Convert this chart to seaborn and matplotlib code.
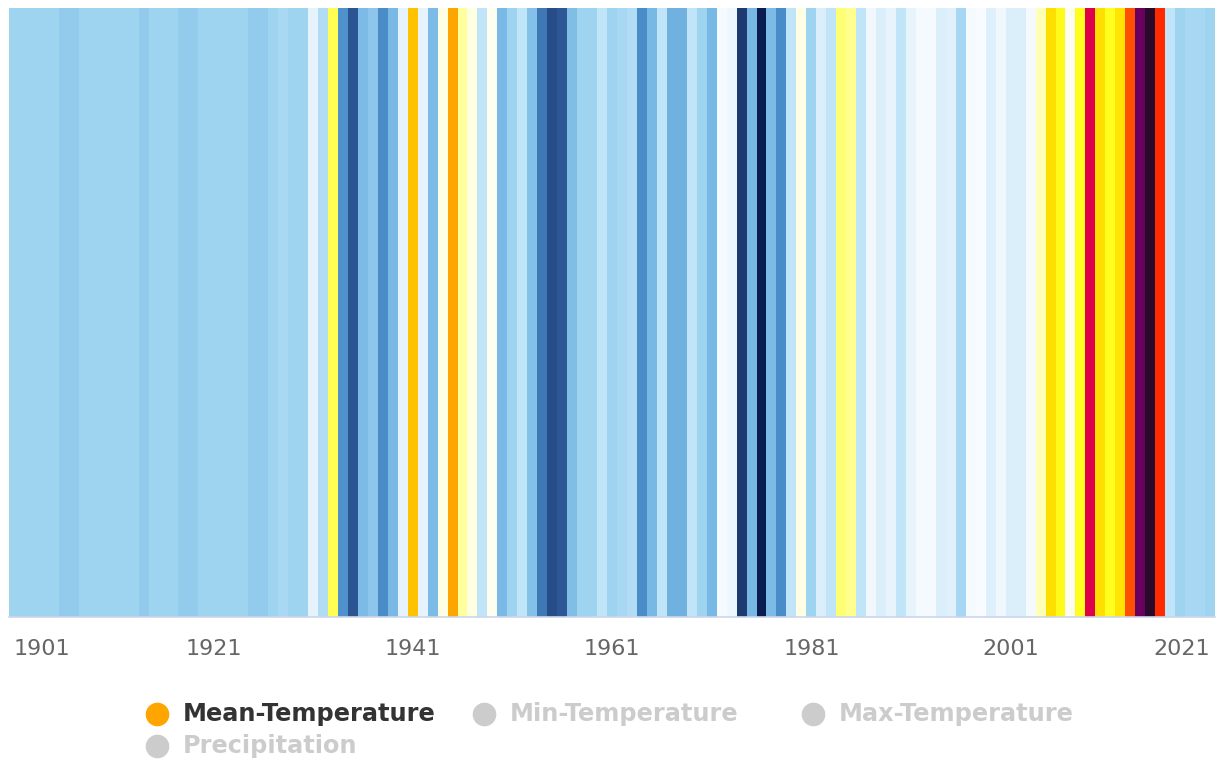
import numpy as np
import pandas as pd
import matplotlib.pyplot as plt
import seaborn as sns
from matplotlib.colors import LinearSegmentedColormap
from matplotlib.lines import Line2D

# yearly mean-temperature anomaly (read off the stripes, approximate)
years = list(range(1901, 2022))
anomaly = [
    -0.30, -0.30, -0.30, -0.30, -0.30, -0.35, -0.35, -0.30, -0.30, -0.30,  # 1901-1910
    -0.30, -0.30, -0.30, -0.35, -0.30, -0.30, -0.30, -0.35, -0.35, -0.30,  # 1911-1920
    -0.30, -0.30, -0.30, -0.30, -0.35, -0.35, -0.30, -0.27, -0.30, -0.30,  # 1921-1930
    -0.10, -0.25, 0.25, -0.58, -0.75, -0.43, -0.37, -0.60, -0.44, -0.10,   # 1931-1940
    0.50, -0.10, -0.43, 0.08, 0.60, 0.18, 0.10, -0.20, 0.05, -0.44,        # 1941-1950
    -0.30, -0.20, -0.40, -0.65, -0.78, -0.74, -0.42, -0.30, -0.30, -0.20,  # 1951-1960
    -0.30, -0.28, -0.25, -0.60, -0.45, -0.20, -0.47, -0.47, -0.20, -0.30,  # 1961-1970
    -0.45, -0.03, -0.06, -0.85, -0.45, -0.97, -0.43, -0.60, -0.20, 0.08,   # 1971-1980
    -0.30, -0.13, -0.20, 0.22, 0.20, -0.20, -0.05, -0.13, -0.09, -0.20,    # 1981-1990
    -0.09, -0.03, -0.03, -0.13, -0.11, -0.28, -0.03, -0.01, -0.12, -0.05,  # 1991-2000
    -0.13, -0.13, -0.03, 0.15, 0.40, 0.32, 0.05, 0.30, 0.85, 0.40,         # 2001-2010
    0.30, 0.39, 0.70, 0.92, 1.00, 0.78, -0.20, -0.30, -0.28, -0.28,        # 2011-2020
    -0.30,                                                                 # 2021
]
tick_years = [1901, 1921, 1941, 1961, 1981, 2001, 2021]
legend_items = ["Mean-Temperature", "Min-Temperature", "Max-Temperature", "Precipitation"]

# stripe colour scale: navy -> light blue -> white -> yellow -> orange -> red -> purple
stops = [
    (-1.00, "#08184a"), (-0.85, "#1e3a70"), (-0.75, "#2b5592"), (-0.60, "#4a8cc8"),
    (-0.45, "#78b8e4"), (-0.30, "#a0d4f0"), (-0.20, "#c0e4f8"), (-0.10, "#e6f3fc"),
    (0.00, "#fafcff"), (0.10, "#ffffe0"), (0.20, "#ffff90"), (0.30, "#ffff20"),
    (0.40, "#ffe000"), (0.50, "#ffc400"), (0.60, "#ffa500"), (0.70, "#ff5000"),
    (0.78, "#ff2a00"), (0.85, "#e0004a"), (0.92, "#6a0060"), (1.00, "#2a0a2a"),
]
cmap = LinearSegmentedColormap.from_list(
    "stripes", [((v + 1) / 2, c) for v, c in stops])

df = pd.DataFrame([anomaly], columns=years)

fig = plt.figure(figsize=(12.25, 7.63), dpi=100)
ax = fig.add_axes([9 / 1225, 1 - 617 / 763, (1215 - 9) / 1225, (617 - 8) / 763])
sns.heatmap(df, ax=ax, cmap=cmap, vmin=-1, vmax=1, cbar=False,
            xticklabels=False, yticklabels=False)

ax.set_xticks([years.index(y) + 0.5 for y in tick_years])
ax.set_xticklabels([str(y) for y in tick_years], fontsize=16, color="#666666")
labels = ax.get_xticklabels()
labels[0].set_ha("left")
labels[-1].set_ha("right")
ax.tick_params(axis="x", length=0, pad=16, rotation=0)
ax.set_yticks([])
ax.set_xlabel("")
ax.set_ylabel("")
ax.spines["bottom"].set_visible(True)
ax.spines["bottom"].set_color("#ccd6eb")
ax.spines["bottom"].set_linewidth(1.2)

# legend, laid out like the original
legend_pos = [(157, 714), (484, 714), (813, 714), (157, 746)]
for i, (name, (px, py)) in enumerate(zip(legend_items, legend_pos)):
    active = i == 0
    fx, fy = px / 1225, 1 - py / 763
    fig.add_artist(Line2D([fx], [fy], transform=fig.transFigure, marker="o",
                          markersize=16, linestyle="none",
                          color="#ffa500" if active else "#cccccc"))
    fig.text(fx + 26 / 1225, fy, name, fontsize=17.3, fontweight="bold",
             color="#333333" if active else "#cccccc", va="center", ha="left")

fig.savefig("out.png", dpi=100)
